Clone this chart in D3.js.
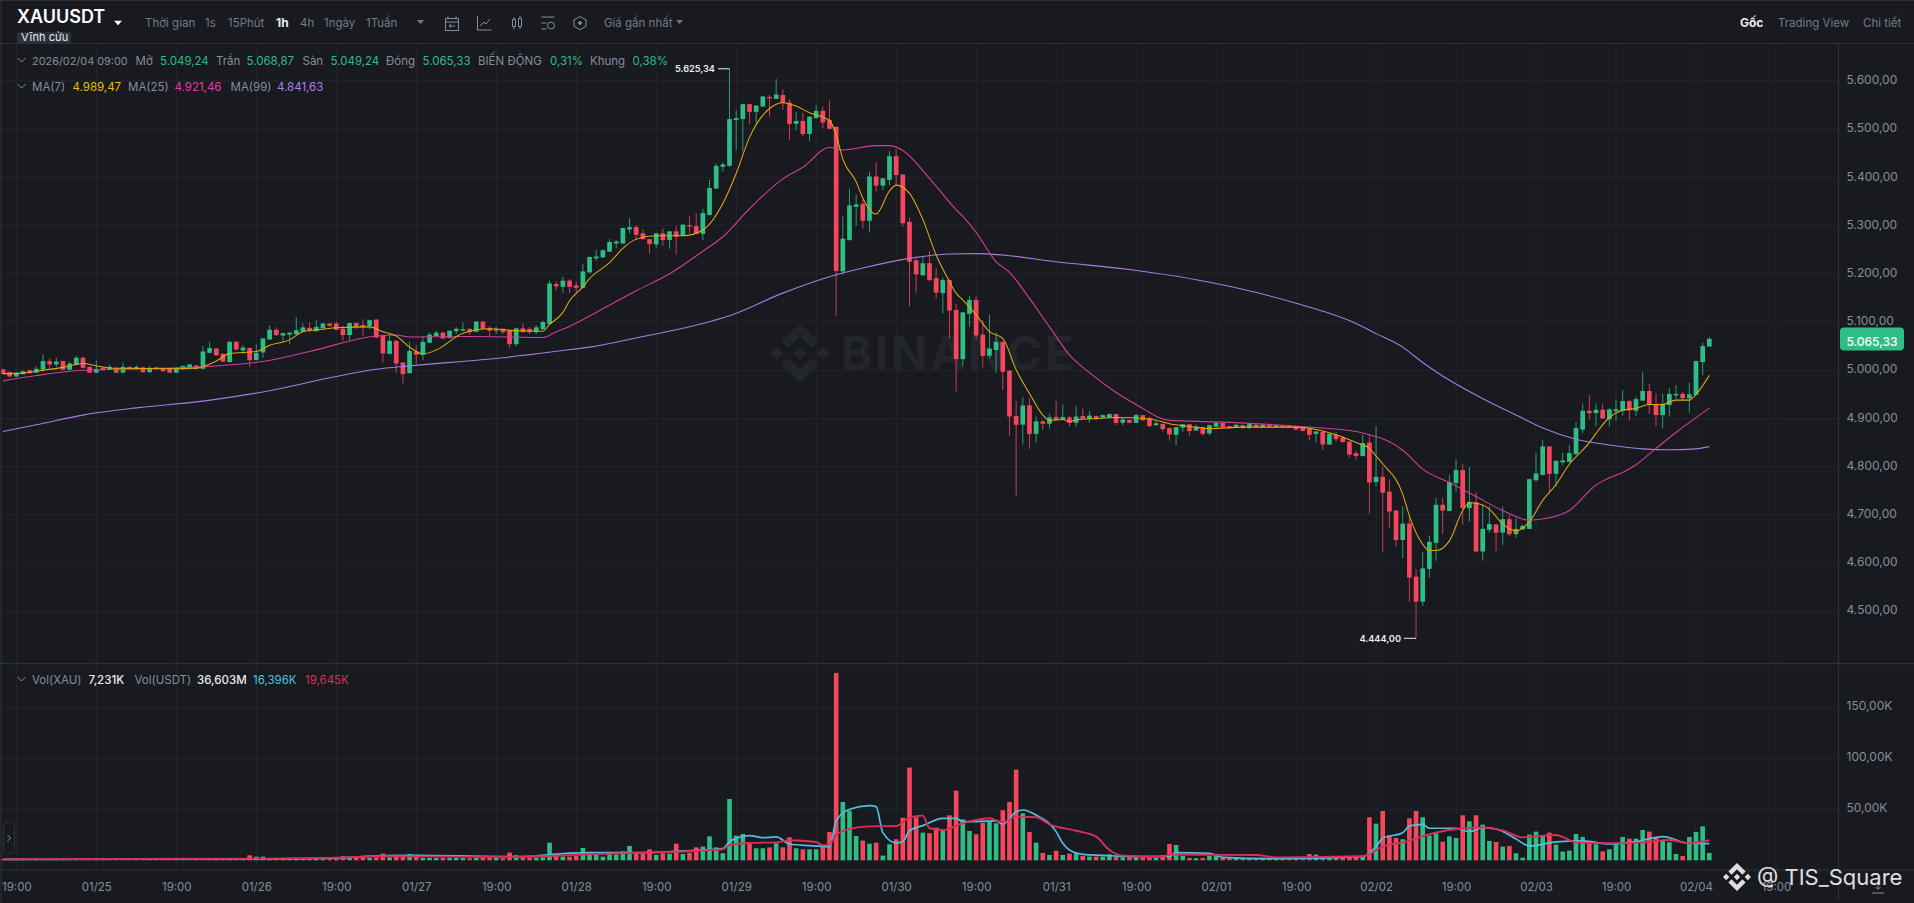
<!DOCTYPE html>
<html lang="vi">
<head>
<meta charset="UTF-8" />
<title>XAUUSDT</title>
<script src="https://cdn.jsdelivr.net/npm/d3@7"></script>
<style>
  html, body { margin: 0; padding: 0; background: #181a20; overflow: hidden; }
  svg { display: block; }
  text { font-family: Inter, "Noto Sans", sans-serif; }
</style>
</head>
<body>
<svg id="chart" width="1914" height="903"></svg>
<script>
// hourly candles, 10 per row
const opens = [
  5002,4996,4987,4992,5000,4995,5001,5019,5012,5019,
  5001,5011,5026,5007,4995,5005,5001,5005,4995,5007,
  5002,5006,4996,5006,5004,5003,4995,5002,5006,5010,
  5003,5036,5045,5034,5017,5059,5041,5046,5021,5037,
  5064,5084,5072,5074,5075,5080,5088,5081,5087,5097,
  5097,5086,5073,5098,5094,5092,5105,5072,5034,5061,
  5016,4994,5039,5032,5057,5071,5078,5067,5081,5082,
  5086,5080,5101,5088,5082,5086,5083,5054,5087,5086,
  5079,5085,5096,5179,5173,5186,5176,5171,5203,5232,
  5234,5246,5263,5263,5292,5297,5284,5272,5261,5284,
  5270,5288,5279,5301,5299,5283,5322,5377,5422,5424,
  5519,5521,5552,5536,5547,5567,5563,5571,5555,5511,
  5517,5490,5523,5538,5519,5505,5205,5270,5339,5345,
  5310,5402,5383,5395,5444,5406,5308,5228,5197,5222,
  5191,5160,5187,5125,5023,5117,5146,5074,5030,5042,
  5059,4999,4905,4887,4927,4868,4894,4889,4903,4897,
  4902,4891,4905,4899,4905,4902,4902,4909,4891,4897,
  4891,4907,4901,4886,4889,4880,4866,4881,4888,4875,
  4882,4869,4883,4891,4884,4881,4886,4881,4887,4882,
  4888,4882,4885,4885,4884,4880,4878,4868,4872,4846,
  4866,4860,4852,4828,4822,4850,4768,4779,4748,4709,
  4648,4682,4572,4520,4588,4642,4721,4708,4766,4793,
  4714,4726,4624,4669,4680,4663,4691,4660,4670,4671,
  4772,4783,4842,4785,4809,4810,4826,4877,4916,4911,
  4918,4898,4915,4916,4936,4916,4937,4957,4929,4907,
  4928,4948,4951,4942,4949,5017,5049.24
];
const closes = [
  4992,4987,4995,4998,4994,5003,5019,5012,5018,5001,
  5014,5026,5005,4995,5003,5000,5007,4995,5007,5002,
  5007,4996,5005,5002,4998,4995,5005,5009,5012,5003,
  5039,5046,5031,5018,5059,5043,5047,5021,5036,5066,
  5084,5073,5077,5078,5083,5089,5082,5090,5097,5092,
  5084,5073,5098,5090,5090,5104,5068,5035,5061,5014,
  4992,5040,5032,5059,5074,5078,5066,5082,5086,5085,
  5079,5101,5086,5082,5085,5079,5054,5087,5079,5079,
  5089,5100,5180,5174,5186,5173,5171,5205,5235,5236,
  5249,5266,5267,5295,5297,5281,5272,5262,5284,5270,
  5288,5277,5302,5298,5283,5326,5378,5424,5427,5521,
  5523,5552,5536,5549,5568,5564,5572,5555,5511,5517,
  5490,5526,5538,5514,5501,5206,5273,5342,5344,5310,
  5402,5383,5398,5444,5405,5305,5225,5199,5222,5187,
  5161,5187,5124,5023,5120,5146,5072,5030,5045,5059,
  4997,4904,4887,4927,4868,4894,4889,4902,4897,4903,
  4891,4904,4900,4906,4900,4907,4909,4891,4898,4891,
  4907,4896,4884,4890,4878,4867,4882,4888,4874,4882,
  4868,4886,4891,4882,4880,4887,4880,4889,4882,4887,
  4883,4886,4882,4881,4877,4874,4866,4873,4846,4868,
  4857,4851,4825,4822,4849,4767,4779,4746,4707,4648,
  4682,4570,4520,4589,4644,4721,4709,4768,4793,4714,
  4727,4624,4671,4681,4663,4691,4660,4671,4677,4774,
  4786,4842,4785,4812,4813,4828,4880,4916,4911,4918,
  4900,4919,4919,4936,4917,4940,4957,4929,4907,4929,
  4951,4951,4942,4950,5019,5050,5065.33
];
const highs = [
  5003,4998,4996,4999,5001,5008,5033,5025,5025,5020,
  5018,5030,5028,5008,5020,5006,5012,5006,5016,5008,
  5010,5007,5009,5007,5005,5004,5006,5010,5013,5011,
  5050,5059,5046,5035,5060,5060,5052,5047,5054,5067,
  5093,5089,5078,5079,5110,5097,5099,5104,5098,5098,
  5101,5093,5099,5099,5106,5105,5106,5073,5077,5062,
  5017,5059,5052,5071,5079,5082,5080,5083,5090,5099,
  5087,5102,5102,5092,5090,5087,5084,5088,5098,5090,
  5094,5103,5186,5185,5194,5189,5184,5220,5236,5250,
  5250,5272,5270,5296,5316,5301,5292,5273,5285,5294,
  5289,5299,5303,5319,5326,5335,5395,5429,5431,5625.34,
  5539,5553,5553,5550,5569,5571,5604,5583,5562,5536,
  5534,5527,5550,5547,5559,5506,5319,5377,5365,5353,
  5412,5432,5399,5455,5458,5407,5317,5232,5236,5248,
  5212,5193,5188,5138,5121,5154,5153,5104,5116,5078,
  5060,5000,4936,4945,4943,4904,4897,4909,4936,4929,
  4905,4926,4921,4915,4906,4908,4910,4910,4902,4898,
  4909,4907,4904,4897,4889,4881,4882,4889,4889,4887,
  4883,4887,4892,4892,4885,4888,4887,4890,4888,4888,
  4889,4887,4886,4886,4885,4881,4879,4874,4873,4869,
  4872,4864,4853,4833,4866,4868,4884,4800,4774,4710,
  4718,4700,4587,4623,4657,4736,4736,4783,4815,4806,
  4799,4748,4721,4718,4681,4717,4700,4693,4680,4775,
  4828,4855,4843,4814,4829,4845,4893,4931,4949,4931,
  4931,4921,4940,4959,4938,4945,4996,4972,4952,4951,
  4963,4969,4955,4974,5020,5057,5068.87
];
const lows = [
  4991,4985,4986,4991,4993,4994,4997,5003,5006,5000,
  5000,5010,5004,4994,4994,4999,5000,4994,4994,5001,
  5001,4995,4995,5001,4997,4994,4994,5001,5005,5002,
  5002,5035,5030,5017,5016,5041,5034,5007,5020,5026,
  5063,5071,5061,5054,5074,5079,5079,5080,5086,5091,
  5083,5061,5063,5085,5072,5085,5066,5016,5033,4995,
  4973,4993,5013,5021,5056,5070,5065,5066,5075,5081,
  5074,5079,5085,5071,5075,5075,5046,5049,5078,5075,
  5075,5084,5095,5165,5160,5160,5160,5170,5202,5227,
  5233,5245,5253,5262,5284,5270,5271,5241,5253,5258,
  5252,5240,5278,5284,5282,5270,5321,5376,5412,5421,
  5456,5454,5511,5512,5546,5526,5562,5540,5478,5498,
  5486,5476,5522,5502,5500,5113,5198,5269,5299,5294,
  5286,5371,5374,5384,5384,5298,5133,5161,5196,5185,
  5149,5118,5066,4956,5008,5090,5064,5006,5024,4995,
  4959,4864,4740,4846,4837,4850,4876,4879,4896,4896,
  4883,4882,4899,4891,4896,4901,4901,4886,4886,4890,
  4890,4895,4882,4885,4873,4854,4844,4872,4864,4874,
  4864,4865,4882,4881,4879,4880,4879,4878,4881,4881,
  4882,4881,4881,4880,4876,4873,4854,4850,4835,4845,
  4853,4850,4819,4814,4821,4703,4759,4624,4672,4634,
  4610,4520,4444,4511,4570,4605,4660,4707,4748,4679,
  4686,4622,4605,4663,4624,4638,4656,4653,4669,4670,
  4769,4782,4748,4758,4803,4809,4825,4869,4898,4884,
  4899,4883,4895,4906,4895,4905,4936,4909,4884,4880,
  4904,4940,4938,4912,4948,4990,5049.24
];
// volume in thousands
const volumes = [
  1.2,0.8,0.9,1.5,1.3,1.6,1.4,1.3,1.0,1.5,
  1.2,1.4,1.3,0.9,0.8,1.0,1.1,0.8,0.9,1.0,
  0.9,1.1,1.0,1.2,1.3,1.0,1.1,1.0,0.9,1.0,
  1.1,1.3,1.2,1.1,1.0,0.9,1.4,4.9,3.6,3.6,
  2.3,2.0,2.3,2.0,2.3,2.0,2.0,2.3,2.0,2.3,
  2.3,4.2,2.9,3.6,4.2,2.3,2.9,6.5,2.9,3.6,
  3.6,6.2,3.6,2.3,2.3,2.3,2.3,2.3,2.3,2.3,
  2.0,2.3,2.3,2.3,2.3,2.0,7.5,4.9,2.9,2.9,
  2.6,2.9,17.3,4.2,3.6,3.6,4.2,12.1,8.2,6.2,
  3.6,8.2,5.6,8.8,14.1,7.5,6.2,10.8,5.2,6.9,
  6.5,16.3,6.2,7.5,12.7,13.4,23.5,12.7,6.9,60.1,
  24.2,25.8,16.0,11.8,11.8,12.7,16.7,12.7,22.5,11.8,
  10.8,10.8,10.8,13.4,27.8,183.7,57.2,48.7,23.9,19.3,
  16.3,17.3,4.6,15.7,20.6,41.8,90.9,42.2,27.1,26.5,
  32.0,28.8,44.1,68.3,40.2,28.8,25.5,36.9,37.9,36.3,
  49.0,57.2,88.9,46.1,27.8,17.3,7.2,5.2,9.2,5.2,
  6.5,6.9,4.2,3.6,3.6,3.6,5.9,3.6,2.9,2.9,
  2.9,2.6,2.6,2.6,4.9,16.0,15.0,4.2,2.3,2.0,
  2.3,4.2,4.2,2.3,2.0,2.0,2.0,2.0,2.0,2.0,
  1.6,1.6,1.6,1.6,1.6,1.6,6.2,5.6,3.6,3.6,
  3.3,3.3,2.9,2.9,4.2,42.2,35.9,48.4,24.5,21.9,
  20.6,41.2,48.4,42.2,24.2,26.5,18.3,23.5,21.9,44.1,
  38.2,44.1,35.0,19.0,18.0,13.4,14.1,6.9,2.6,25.2,
  28.1,23.9,27.1,15.4,8.5,9.5,25.8,22.9,17.3,15.7,
  8.8,10.8,16.0,22.9,21.2,21.2,29.7,28.1,22.2,19.9,
  17.6,6.2,4.2,22.9,27.8,33.3,7.231
];

// moving averages, read at the candle index where the line bends
const ma7Index = [0,3,5,9,12,14,17,26,29,32,34,38,40,43,45,48,50,55,57,59,61,63,65,69,73,77,81,82,84,85,87,88,91,93,95,98,102,105,108,110,112,115,117,119,121,124,125,126,128,129,131,133,134,136,138,140,142,143,144,146,148,150,152,154,156,157,159,160,161,164,167,172,175,179,181,186,194,197,200,203,205,206,207,210,211,213,214,215,217,219,220,221,223,225,227,229,231,233,235,238,239,241,243,245,247,249,251,253,254,256];
const ma7Values = [4993,4994,4998,5006,5014,5009,5004,5003,5004,5019,5035,5039,5052,5063,5080,5085,5088,5090,5080,5071,5048,5034,5042,5077,5086,5082,5081,5095,5120,5144,5173,5190,5223,5253,5272,5279,5279,5291,5346,5408,5483,5543,5555,5548,5534,5518,5488,5438,5391,5357,5324,5372,5384,5367,5313,5239,5184,5160,5146,5115,5080,5066,5001,4952,4907,4896,4898,4893,4897,4900,4902,4899,4889,4882,4879,4882,4882,4877,4866,4850,4838,4822,4806,4743,4698,4639,4626,4626,4646,4709,4725,4724,4712,4681,4667,4686,4730,4763,4805,4850,4869,4902,4917,4921,4929,4929,4938,4938,4950,4989.47];
const ma25Index = [0,5,12,21,30,33,39,46,56,59,61,70,81,83,84,89,95,100,105,108,112,117,120,124,126,131,133,135,139,143,144,146,149,151,154,157,160,163,167,170,175,182,194,203,206,207,210,213,217,221,225,229,232,235,239,241,243,245,248,251,256];
const ma25Values = [4978,4989,5000,5003,5007,5010,5018,5039,5071,5073,5069,5070,5068,5080,5085,5120,5165,5200,5247,5277,5335,5397,5421,5462,5457,5466,5466,5456,5398,5333,5319,5286,5225,5203,5149,5090,5032,4995,4954,4929,4896,4893,4884,4873,4862,4858,4834,4795,4767,4738,4709,4689,4694,4709,4762,4777,4788,4804,4838,4871,4921.46];
const ma99Index = [0,5,12,20,30,39,50,56,61,75,84,88,96,105,109,117,125,129,136,142,146,150,158,169,182,194,203,206,210,213,216,223,227,231,236,241,246,250,254,256];
const ma99Values = [4873,4887,4907,4922,4936,4955,4987,5002,5009,5026,5041,5048,5070,5097,5113,5160,5198,5212,5232,5241,5242,5239,5225,5209,5180,5139,5097,5076,5048,5016,4988,4934,4907,4880,4857,4845,4837,4835,4837,4841.63];

// volume averages, same idea
const volFastIndex = [0,37,50,57,62,76,80,82,88,94,96,102,108,109,110,112,114,116,118,121,124,125,127,130,131,132,134,135,136,138,141,143,144,149,150,152,153,155,158,159,160,162,165,170,175,176,181,183,191,204,206,207,210,211,213,214,218,220,222,224,227,229,233,237,241,245,249,253,256];
const volFastValues = [1.0,1.3,2.3,4.6,4.9,3.6,4.2,5.6,7.5,7.5,7.5,9.2,11.4,18.3,21.6,24.2,22.2,22.9,16.0,14.4,13.4,38.6,50.0,53.6,52.6,27.1,17.0,18.3,29.0,34.0,41.2,41.2,37.9,38.6,35.6,47.7,49.3,44.4,28.1,16.7,10.1,5.9,4.9,3.6,3.9,7.5,6.9,2.9,1.6,3.6,13.4,21.6,27.0,33.7,35.3,31.4,31.4,28.1,32.0,30.7,20.9,14.1,18.0,19.0,16.0,18.3,23.2,16.7,16.396];
const volSlowIndex = [0,37,50,57,76,82,88,96,108,109,112,116,118,122,123,124,125,127,130,134,136,138,139,141,144,148,150,152,155,157,161,164,166,168,174,175,188,191,204,207,211,214,218,222,225,228,233,236,241,246,250,253,256];
const volSlowValues = [1.0,1.6,2.6,4.0,3.2,4.2,5.9,7.5,10.8,15.0,17.0,17.6,19.6,18.0,14.7,15.7,24.8,30.7,33.3,33.7,41.8,43.8,31.4,29.7,36.3,41.2,37.3,42.8,42.2,35.3,29.0,23.2,10.1,4.6,3.6,5.6,5.2,2.9,3.9,13.4,19.0,25.5,30.7,32.0,29.4,22.5,24.8,17.6,16.7,17.6,19.9,16.7,19.645];

const priceTicks = [5600,5500,5400,5300,5200,5100,5000,4900,4800,4700,4600,4500];
const volumeTicks = [50,100,150];
const timeTickLabels = ["19:00","01/25","19:00","01/26","19:00","01/27","19:00","01/28","19:00","01/29","19:00","01/30","19:00","01/31","19:00","02/01","19:00","02/02","19:00","02/03","19:00","02/04","19:00"];
const timeTickIndex = timeTickLabels.map((d, i) => 2 + 12 * i);

const W = 1914, H = 903;
const axisX = 1838;
const topY = 43.5, splitY = 663.5, bottomY = 870;
const colors = {
  bg: "#181a20", grid: "#22262d", line: "#2b3139", text: "#848e9c", soft: "#707a8a",
  up: "#2ebd85", down: "#f6465d", white: "#eaecef",
  ma7: "#e0a90c", ma25: "#d23c98", ma99: "#a47ce0",
  ma7text: "#f0b90b", ma25text: "#e23ca3", ma99text: "#a880ef",
  volFast: "#4fc0dd", volSlow: "#d72f5a"
};

const x = d3.scaleLinear().domain([0, 256]).range([3, 1709.33]);
const y = d3.scaleLinear().domain([5600, 4500]).range([81, 611.3]);
const yVol = d3.scaleLinear().domain([0, 150]).range([860.3, 707.3]);
const viVN = d3.formatLocale({ decimal: ",", thousands: ".", grouping: [3], currency: ["", ""] });
const fmtPrice = viVN.format(",.2f");

const svg = d3.select("#chart");
svg.append("rect").attr("width", W).attr("height", H).attr("fill", colors.bg);

// grid
const grid = svg.append("g").attr("stroke", colors.grid).attr("stroke-width", 1);
grid.selectAll(".gp").data(priceTicks).join("line")
  .attr("x1", 0).attr("x2", axisX).attr("y1", d => y(d)).attr("y2", d => y(d));
grid.selectAll(".gv").data(volumeTicks).join("line")
  .attr("x1", 0).attr("x2", axisX).attr("y1", d => yVol(d)).attr("y2", d => yVol(d));
grid.selectAll(".gt").data(timeTickIndex).join("line")
  .attr("x1", d => x(d)).attr("x2", d => x(d)).attr("y1", topY).attr("y2", bottomY);

// the two watermarks use the same mark
function binanceMark(parent, cx, cy, r, fill) {
  const shapes = [
    [[-.388,-.16],[0,-.548],[.388,-.16],[.614,-.386],[0,-1],[-.614,-.386]],
    [[-.388,.16],[0,.548],[.388,.16],[.614,.386],[0,1],[-.614,.386]],
    [[-1,0],[-.774,-.226],[-.548,0],[-.774,.226]],
    [[1,0],[.774,-.226],[.548,0],[.774,.226]],
    [[-.226,0],[0,-.226],[.226,0],[0,.226]]
  ];
  const line = d3.line().x(d => cx + d[0] * r).y(d => cy + d[1] * r);
  parent.selectAll(null).data(shapes).join("path")
    .attr("d", d => line(d) + "Z").attr("fill", fill);
}
const wm = svg.append("g");
binanceMark(wm, 800, 353, 30, "#22252b");
wm.append("text").attr("x", 841).attr("y", 370).text("BINANCE")
  .attr("fill", "#22252b").attr("font-size", 47).attr("font-weight", 700).attr("letter-spacing", 3);

// candles
const idx = d3.range(opens.length);
const isUp = i => closes[i] >= opens[i];
const candles = svg.append("g");
candles.selectAll("line").data(idx).join("line")
  .attr("x1", i => x(i)).attr("x2", i => x(i))
  .attr("y1", i => y(highs[i])).attr("y2", i => y(lows[i]))
  .attr("stroke", i => isUp(i) ? colors.up : colors.down).attr("stroke-width", 1).attr("opacity", 0.8);
candles.selectAll("rect").data(idx).join("rect")
  .attr("x", i => x(i) - 2.35).attr("width", 4.7)
  .attr("y", i => y(Math.max(opens[i], closes[i])))
  .attr("height", i => Math.max(1.2, Math.abs(y(opens[i]) - y(closes[i]))))
  .attr("fill", i => isUp(i) ? colors.up : colors.down);

// moving averages
function drawLine(xs, ys, scale, color, width) {
  const pts = xs.map((d, i) => [d, ys[i]]);
  svg.append("path").datum(pts)
    .attr("d", d3.line().x(d => x(d[0])).y(d => scale(d[1])).curve(d3.curveMonotoneX))
    .attr("fill", "none").attr("stroke", color).attr("stroke-width", width);
}
drawLine(ma99Index, ma99Values, y, colors.ma99, 1.1);
drawLine(ma25Index, ma25Values, y, colors.ma25, 1.1);
drawLine(ma7Index, ma7Values, y, colors.ma7, 1.05);

// high / low notes
const notes = svg.append("g").attr("fill", colors.white).attr("font-size", 9.2).attr("font-weight", 600);
notes.append("text").attr("x", 715).attr("y", y(5625.34)).attr("dy", "0.35em").attr("text-anchor", "end").text(fmtPrice(5625.34));
notes.append("line").attr("x1", 718).attr("x2", x(109)).attr("y1", y(5625.34)).attr("y2", y(5625.34)).attr("stroke", colors.white);
notes.append("text").attr("x", 1401).attr("y", y(4444)).attr("dy", "0.35em").attr("text-anchor", "end").text(fmtPrice(4444));
notes.append("line").attr("x1", 1404).attr("x2", x(212)).attr("y1", y(4444)).attr("y2", y(4444)).attr("stroke", colors.white);

// volume
const vols = svg.append("g");
vols.selectAll("rect").data(idx).join("rect")
  .attr("x", i => x(i) - 2.3).attr("width", 4.6)
  .attr("y", i => yVol(volumes[i]))
  .attr("height", i => yVol(0) - yVol(volumes[i]))
  .attr("fill", i => isUp(i) ? colors.up : colors.down);
drawLine(volFastIndex, volFastValues, yVol, colors.volFast, 1.7);
drawLine(volSlowIndex, volSlowValues, yVol, colors.volSlow, 1.9);

// frame lines
const frame = svg.append("g").attr("stroke", colors.line);
frame.append("line").attr("x1", 0).attr("x2", W).attr("y1", 0.5).attr("y2", 0.5);
frame.append("line").attr("x1", 1).attr("x2", 1).attr("y1", 0).attr("y2", H);
frame.append("line").attr("x1", 0).attr("x2", W).attr("y1", topY).attr("y2", topY).attr("stroke-width", 1.2);
frame.append("line").attr("x1", 0).attr("x2", W).attr("y1", splitY).attr("y2", splitY).attr("stroke-width", 1.4);
frame.append("line").attr("x1", 0).attr("x2", W).attr("y1", bottomY).attr("y2", bottomY).attr("stroke-width", 1.2);
frame.append("line").attr("x1", axisX + 0.5).attr("x2", axisX + 0.5).attr("y1", topY).attr("y2", 900);

// axes
function styleAxis(g, size) {
  g.select(".domain").remove();
  g.selectAll("line").remove();
  g.selectAll("text").attr("fill", colors.text).attr("font-size", size);
}
svg.append("g").attr("transform", `translate(${axisX + 8.5},-1.2)`)
  .call(d3.axisRight(y).tickValues(priceTicks).tickFormat(fmtPrice).tickSize(0).tickPadding(0))
  .call(styleAxis, 12);
svg.append("g").attr("transform", `translate(${axisX + 8.5},-1.2)`)
  .call(d3.axisRight(yVol).tickValues(volumeTicks).tickFormat(d => fmtPrice(d) + "K").tickSize(0).tickPadding(0))
  .call(styleAxis, 12);
svg.append("g").attr("transform", `translate(0,882.5)`)
  .call(d3.axisBottom(x).tickValues(timeTickIndex).tickFormat((d, i) => timeTickLabels[i]).tickSize(0).tickPadding(0))
  .call(styleAxis, 11.5);

// text rows
function labels(rows, cy, size) {
  svg.append("g").selectAll("text").data(rows).join("text")
    .attr("x", d => d[0]).attr("y", cy).attr("dy", "0.35em")
    .attr("font-size", d => d[3] || size).attr("font-weight", d => d[4] || 400)
    .attr("fill", d => d[2]).text(d => d[1]);
}
const c = colors;
labels([[17, "XAUUSDT", "#ffffff", 18, 600]], 16.5, 16);
labels([
  [145, "Thời gian", c.soft], [205, "1s", c.soft], [228, "15Phút", c.soft],
  [276, "1h", c.white, 12, 700], [300, "4h", c.soft], [324, "1ngày", c.soft], [366, "1Tuần", c.soft],
  [604, "Giá gần nhất", c.soft],
  [1740, "Gốc", c.white, 12, 700], [1778, "Trading View", c.soft], [1863, "Chi tiết", c.soft]
], 23, 11.5);
labels([
  [32, "2026/02/04 09:00", c.text, 10.9], [135.5, "Mở", c.text], [160, "5.049,24", c.up],
  [216, "Trần", c.text], [246.5, "5.068,87", c.up], [302.5, "Sàn", c.text], [330.5, "5.049,24", c.up],
  [386, "Đóng", c.text], [422.5, "5.065,33", c.up], [478, "BIẾN ĐỘNG", c.text], [550, "0,31%", c.up],
  [590, "Khung", c.text], [632.5, "0,38%", c.up]
], 61, 11.5);
labels([
  [32, "MA(7)", c.text], [72.5, "4.989,47", c.ma7text], [128, "MA(25)", c.text], [174.5, "4.921,46", c.ma25text],
  [230.5, "MA(99)", c.text], [277, "4.841,63", c.ma99text]
], 87, 11.5);
labels([
  [32, "Vol(XAU)", c.text], [88.5, "7,231K", c.white, 11.5, 500], [134.5, "Vol(USDT)", c.text],
  [197, "36,603M", c.white, 11.5, 500], [253, "16,396K", c.volFast], [305, "19,645K", c.volSlow]
], 680, 11.5);

// "Vĩnh cửu" badge
svg.append("rect").attr("x", 17).attr("y", 32).attr("width", 54).attr("height", 11.5).attr("rx", 2).attr("fill", "#2b3139");
labels([[21, "Vĩnh cửu", c.white]], 37.5, 11);

// little triangles and chevrons
const tri = (cx, cy, w, h) => `M${cx - w / 2},${cy - h / 2}L${cx + w / 2},${cy - h / 2}L${cx},${cy + h / 2}Z`;
const shapes = svg.append("g");
shapes.append("path").attr("d", tri(118, 23, 8, 4.5)).attr("fill", "#ffffff");
shapes.append("path").attr("d", tri(420.5, 22, 7, 4)).attr("fill", c.soft);
shapes.append("path").attr("d", tri(679.5, 22, 7, 4)).attr("fill", c.soft);
[61, 87, 680].forEach(cy => {
  shapes.append("path").attr("d", `M17.5,${cy - 3}L21.5,${cy + 1}L25.5,${cy - 3}`)
    .attr("fill", "none").attr("stroke", c.text);
});

// toolbar icons
const icons = svg.append("g").attr("fill", "none").attr("stroke", c.text).attr("stroke-width", 1);
icons.append("path").attr("d", "M445.5,18.5h13v12h-13zM445.5,22h13M448,16.5v2M456,16.5v2M455,26h-6M451,24l-2,2l2,2");
icons.append("path").attr("d", "M477.5,16v14h14M480,26l4,-4l2,2l4,-5");
icons.append("path").attr("d", "M512.5,19.5h3v7h-3zM514,17v2.5M514,26.5v2.5M518.5,18.5h3v8h-3zM520,16v2.5M520,26.5v2.5");
icons.append("path").attr("d", "M541.5,17h13M541.5,23h5M541.5,29h5");
icons.append("circle").attr("cx", 551).attr("cy", 25.5).attr("r", 3.5);
icons.append("path").attr("d", "M580,16.5l6,3.3v6.6l-6,3.3l-6,-3.3v-6.6z");
icons.append("circle").attr("cx", 580).attr("cy", 23).attr("r", 1.4).attr("fill", c.text);

// side handle next to the volume panel
svg.append("rect").attr("x", 3.5).attr("y", 822).attr("width", 11).attr("height", 31).attr("rx", 3)
  .attr("fill", colors.bg).attr("stroke", c.line);
svg.append("path").attr("d", "M7.5,835l3,3l-3,3").attr("fill", "none").attr("stroke", c.text);

// last price tag
svg.append("rect").attr("x", 1840).attr("y", 327.5).attr("width", 64).attr("height", 23).attr("rx", 4).attr("fill", c.up);
svg.append("text").attr("x", 1872).attr("y", y(5065.33)).attr("dy", "0.6em").attr("text-anchor", "middle")
  .attr("fill", "#ffffff").attr("font-size", 12).attr("font-weight", 500).text(fmtPrice(5065.33));

// download icon, bottom right
svg.append("path").attr("d", "M1878,882v7M1875.5,887l2.5,2.5l2.5,-2.5M1872,893h12").attr("fill", "none").attr("stroke", c.text);

// reposter's stamp
const stamp = svg.append("g").attr("opacity", 0.86);
binanceMark(stamp, 1737, 877, 14, "#ffffff");
stamp.append("text").attr("x", 1757).attr("y", 877).attr("dy", "0.36em")
  .attr("font-family", "'DejaVu Sans', sans-serif").attr("font-size", 22).attr("fill", "#ffffff").text("@ TIS_Square");
</script>
</body>
</html>
